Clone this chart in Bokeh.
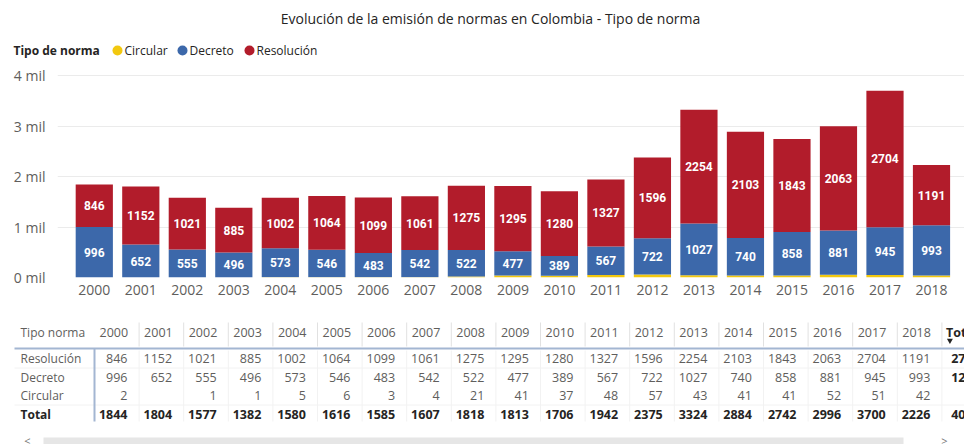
from bokeh.plotting import figure
from bokeh.models import ColumnDataSource, Range1d, FixedTicker
from bokeh.embed import file_html
from bokeh.resources import INLINE
from bokeh.core.properties import value

# ---------------- data ----------------
years = [2000, 2001, 2002, 2003, 2004, 2005, 2006, 2007, 2008, 2009,
         2010, 2011, 2012, 2013, 2014, 2015, 2016, 2017, 2018]
resolucion = [846, 1152, 1021, 885, 1002, 1064, 1099, 1061, 1275, 1295,
              1280, 1327, 1596, 2254, 2103, 1843, 2063, 2704, 1191]
decreto = [996, 652, 555, 496, 573, 546, 483, 542, 522, 477,
           389, 567, 722, 1027, 740, 858, 881, 945, 993]
circular = [2, 0, 1, 1, 5, 6, 3, 4, 21, 41,
            37, 48, 57, 43, 41, 41, 52, 51, 42]
series = ["Circular", "Decreto", "Resolución"]
y_ticks = [0, 1000, 2000, 3000, 4000]
y_tick_labels = ["0 mil", "1 mil", "2 mil", "3 mil", "4 mil"]
title_text = "Evolución de la emisión de normas en Colombia - Tipo de norma"
legend_title = "Tipo de norma"
table_header = "Tipo norma"
total_label = "Total"

# ---------------- styles ----------------
colors = ["#F2C80F", "#3C68AA", "#B21C2B"]
FONT = "Open Sans"
GREY = "#605E5C"
DARK = "#252423"
W = 964


def pixel_fig(height):
    f = figure(width=W, height=height, output_backend="svg",
               toolbar_location=None, x_range=Range1d(0, W),
               y_range=Range1d(height, 0), min_border=0,
               x_axis_location=None, y_axis_location=None,
               outline_line_color=None)
    f.grid.visible = False
    return f


# ---------------- header (title + legend) ----------------
h = pixel_fig(64)
h.text(x=[490], y=[18], text=[title_text], text_align="center",
       text_baseline="middle", text_font=value(FONT), text_font_size="14px",
       text_color=DARK)
h.text(x=[13], y=[50], text=[legend_title], text_baseline="middle",
       text_font=value(FONT), text_font_size="12px", text_font_style="bold",
       text_color=DARK)
leg_x = [117, 182, 249]
h.scatter(x=leg_x, y=[50] * 3, marker="circle", size=10, color=colors,
          line_color=None)
h.text(x=[x + 7 for x in leg_x], y=[50] * 3, text=series,
       text_baseline="middle", text_font=value(FONT), text_font_size="12px",
       text_color=DARK)

# ---------------- chart ----------------
src = ColumnDataSource(dict(
    year=years,
    Circular=circular,
    Decreto=decreto,
    Resolución=resolucion,
    dec_mid=[c + d / 2 for c, d in zip(circular, decreto)],
    res_mid=[c + d + r / 2 for c, d, r in zip(circular, decreto, resolucion)],
    dec_txt=[str(d) for d in decreto],
    res_txt=[str(r) for r in resolucion],
))

p = figure(width=W, height=247, output_backend="svg", toolbar_location=None,
           x_range=Range1d(1999.209, 2018.7095), y_range=Range1d(0, 4218),
           min_border_left=57, min_border_right=0, min_border_top=0,
           min_border_bottom=34, outline_line_color=None)

p.vbar_stack(series, x="year", width=0.8, color=colors, line_color=None,
             source=src)

for ycol, tcol in (("dec_mid", "dec_txt"), ("res_mid", "res_txt")):
    p.text(x="year", y=ycol, text=tcol, source=src, text_align="center",
           text_baseline="middle", text_color="white",
           text_font=value("Roboto"), text_font_style="bold",
           text_font_size="12px")

p.xgrid.visible = False
p.ygrid.grid_line_color = "#EBEBEB"
p.ygrid.ticker = FixedTicker(ticks=y_ticks)

p.yaxis.ticker = FixedTicker(ticks=y_ticks)
p.yaxis.major_label_overrides = {t: l for t, l in zip(y_ticks, y_tick_labels)}
p.xaxis.ticker = FixedTicker(ticks=years)
for ax in (p.xaxis, p.yaxis):
    ax.axis_line_color = None
    ax.major_tick_line_color = None
    ax.minor_tick_line_color = None
    ax.major_tick_out = 0
    ax.minor_tick_out = 0
    ax.major_label_text_font = FONT
    ax.major_label_text_font_size = "14px"
    ax.major_label_text_color = GREY
p.yaxis.major_label_standoff = 12
p.xaxis.major_label_standoff = 7

# ---------------- table ----------------
t = pixel_fig(133)

COL0 = 94.0
COLW = 44.6
HEAD_Y = 20.7
ROW_Y = [47.3, 65.7, 84.0, 103.0]
NAME_X = 20
ncol = len(years)
col_left = [COL0 + COLW * i for i in range(ncol + 1)]

# grid lines of the table
t.segment(x0=col_left[1:], y0=[11] * ncol, x1=col_left[1:], y1=[35] * ncol,
          line_color="#E1E1E1", line_width=1)
t.segment(x0=col_left[1:], y0=[39] * ncol, x1=col_left[1:], y1=[110] * ncol,
          line_color="#F2F2F2", line_width=1)
t.segment(x0=[14, 14], y0=[56.5, 93.5], x1=[W, W], y1=[56.5, 93.5],
          line_color="#F2F2F2", line_width=1)
t.segment(x0=[14], y0=[37], x1=[W], y1=[37], line_color="#A3B6D2",
          line_width=2)
t.segment(x0=[COL0], y0=[37], x1=[COL0], y1=[110], line_color="#A3B6D2",
          line_width=2)

# header
hdr = ColumnDataSource(dict(x=[cl + 5 for cl in col_left[:-1]],
                            y=[HEAD_Y] * ncol, text=[str(y) for y in years]))
t.text(x="x", y="y", text="text", source=hdr, text_baseline="middle",
       text_font=value(FONT), text_font_size="12.5px", text_color=GREY)
t.text(x=[NAME_X], y=[HEAD_Y], text=[table_header], text_baseline="middle",
       text_font=value(FONT), text_font_size="12px", text_color=GREY)
t.text(x=[col_left[-1] + 4], y=[HEAD_Y], text=[total_label],
       text_baseline="middle", text_font=value(FONT), text_font_size="12.5px",
       text_font_style="bold", text_color=DARK)
t.scatter(x=[col_left[-1] + 8], y=[29], marker="inverted_triangle", size=6,
          color=DARK, line_color=None)

totals = [c + d + r for c, d, r in zip(circular, decreto, resolucion)]
rows = [("Resolución", resolucion), ("Decreto", decreto),
        ("Circular", circular), (total_label, totals)]
for (name, vals), ry in zip(rows, ROW_Y):
    is_total = name == total_label
    color = DARK if is_total else GREY
    style = "bold" if is_total else "normal"
    t.text(x=[NAME_X], y=[ry], text=[name], text_baseline="middle",
           text_font=value(FONT), text_font_size="12px",
           text_font_style=style, text_color=color)
    rs = ColumnDataSource(dict(
        x=[cl + 33 for cl in col_left[:-1]],
        y=[ry] * ncol,
        text=[(str(v) if v else "") for v in vals]))
    t.text(x="x", y="y", text="text", source=rs, text_align="right",
           text_baseline="middle", text_font=value(FONT),
           text_font_size="12.5px", text_font_style=style, text_color=color)
    # row total (column cut by the visual's right edge, as in the original)
    t.text(x=[col_left[-1] + 45], y=[ry], text=[str(sum(vals))],
           text_align="right", text_baseline="middle", text_font=value(FONT),
           text_font_size="12.5px", text_font_style="bold", text_color=DARK)

# horizontal scrollbar
t.quad(left=[43], right=[903], top=[126], bottom=[133], color="#E6E6E6",
       line_color=None)
t.text(x=[27, 944], y=[129, 129], text=["<", ">"], text_align="center",
       text_baseline="middle", text_font=value(FONT), text_font_size="11px",
       text_color="#777777")

open("out.html", "w").write(file_html([h, p, t], INLINE))
